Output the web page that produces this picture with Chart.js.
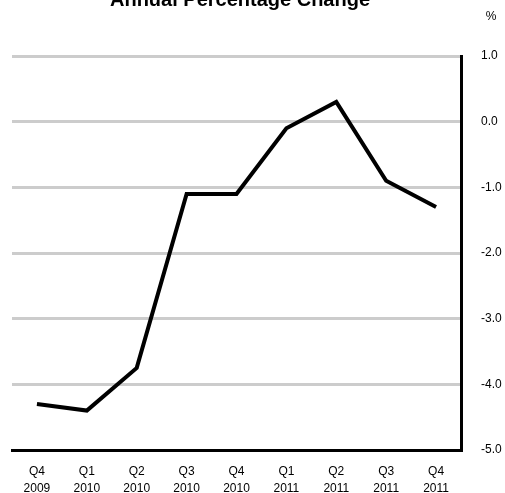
<!DOCTYPE html>
<html>
<head>
<meta charset="utf-8">
<script src="https://cdn.jsdelivr.net/npm/chart.js@4"></script>
<style>
  html, body { margin: 0; padding: 0; background: #fff; overflow: hidden; }
  #wrap { position: absolute; left: 0; top: 0; width: 505px; height: 500px; }
</style>
</head>
<body>
<div id="wrap"><canvas id="c"></canvas></div>
<script>
const quarters = ['Q4','Q1','Q2','Q3','Q4','Q1','Q2','Q3','Q4'];
const years = ['2009','2010','2010','2010','2010','2011','2011','2011','2011'];
const values = [-4.3, -4.4, -3.75, -1.1, -1.1, -0.1, 0.3, -0.9, -1.3];
const yTicks = [1, 0, -1, -2, -3, -4, -5];
const titleText = 'Annual Percentage Change';
const unitText = '%';

const labels = quarters.map((q, i) => [q, years[i]]);
const FONT = '"Liberation Sans", Arial, sans-serif';

const textPlugin = {
  id: 'textPlugin',
  afterDraw(chart) {
    const ctx = chart.ctx;
    ctx.save();
    ctx.fillStyle = '#000';
    ctx.textAlign = 'center';
    ctx.textBaseline = 'alphabetic';
    ctx.font = 'bold 20px ' + FONT;
    ctx.fillText(titleText, 240, 6);
    ctx.font = '12px ' + FONT;
    ctx.textBaseline = 'middle';
    ctx.fillText(unitText, 491, 17);
    ctx.restore();
  }
};

new Chart(document.getElementById('c'), {
  type: 'line',
  data: {
    labels: labels,
    datasets: [{
      data: values,
      borderColor: '#000',
      borderWidth: 4,
      pointRadius: 0,
      tension: 0,
      fill: false
    }]
  },
  options: {
    responsive: true,
    maintainAspectRatio: false,
    animation: false,
    layout: { padding: { top: 56, left: 12, right: 0, bottom: 0 } },
    plugins: { legend: { display: false }, tooltip: { enabled: false }, title: { display: false } },
    scales: {
      x: {
        offset: true,
        grid: { display: false, drawTicks: false },
        border: { display: true, color: '#000', width: 3 },
        afterFit(axis) { axis.height = 50; },
        ticks: {
          color: '#000',
          font: { family: FONT, size: 12, lineHeight: 1.4 },
          padding: 13,
          maxRotation: 0,
          autoSkip: false
        }
      },
      y: {
        position: 'right',
        min: -5,
        max: 1,
        afterBuildTicks(axis) { axis.ticks = yTicks.map(v => ({ value: v })); },
        afterFit(axis) { axis.width = 44; },
        grid: { color: '#cccccc', lineWidth: 3, drawTicks: false },
        border: { display: true, color: '#000', width: 3 },
        ticks: {
          color: '#000',
          font: { family: FONT, size: 12 },
          padding: 20,
          callback: v => Number(v).toFixed(1)
        }
      }
    }
  },
  plugins: [textPlugin]
});
</script>
</body>
</html>
